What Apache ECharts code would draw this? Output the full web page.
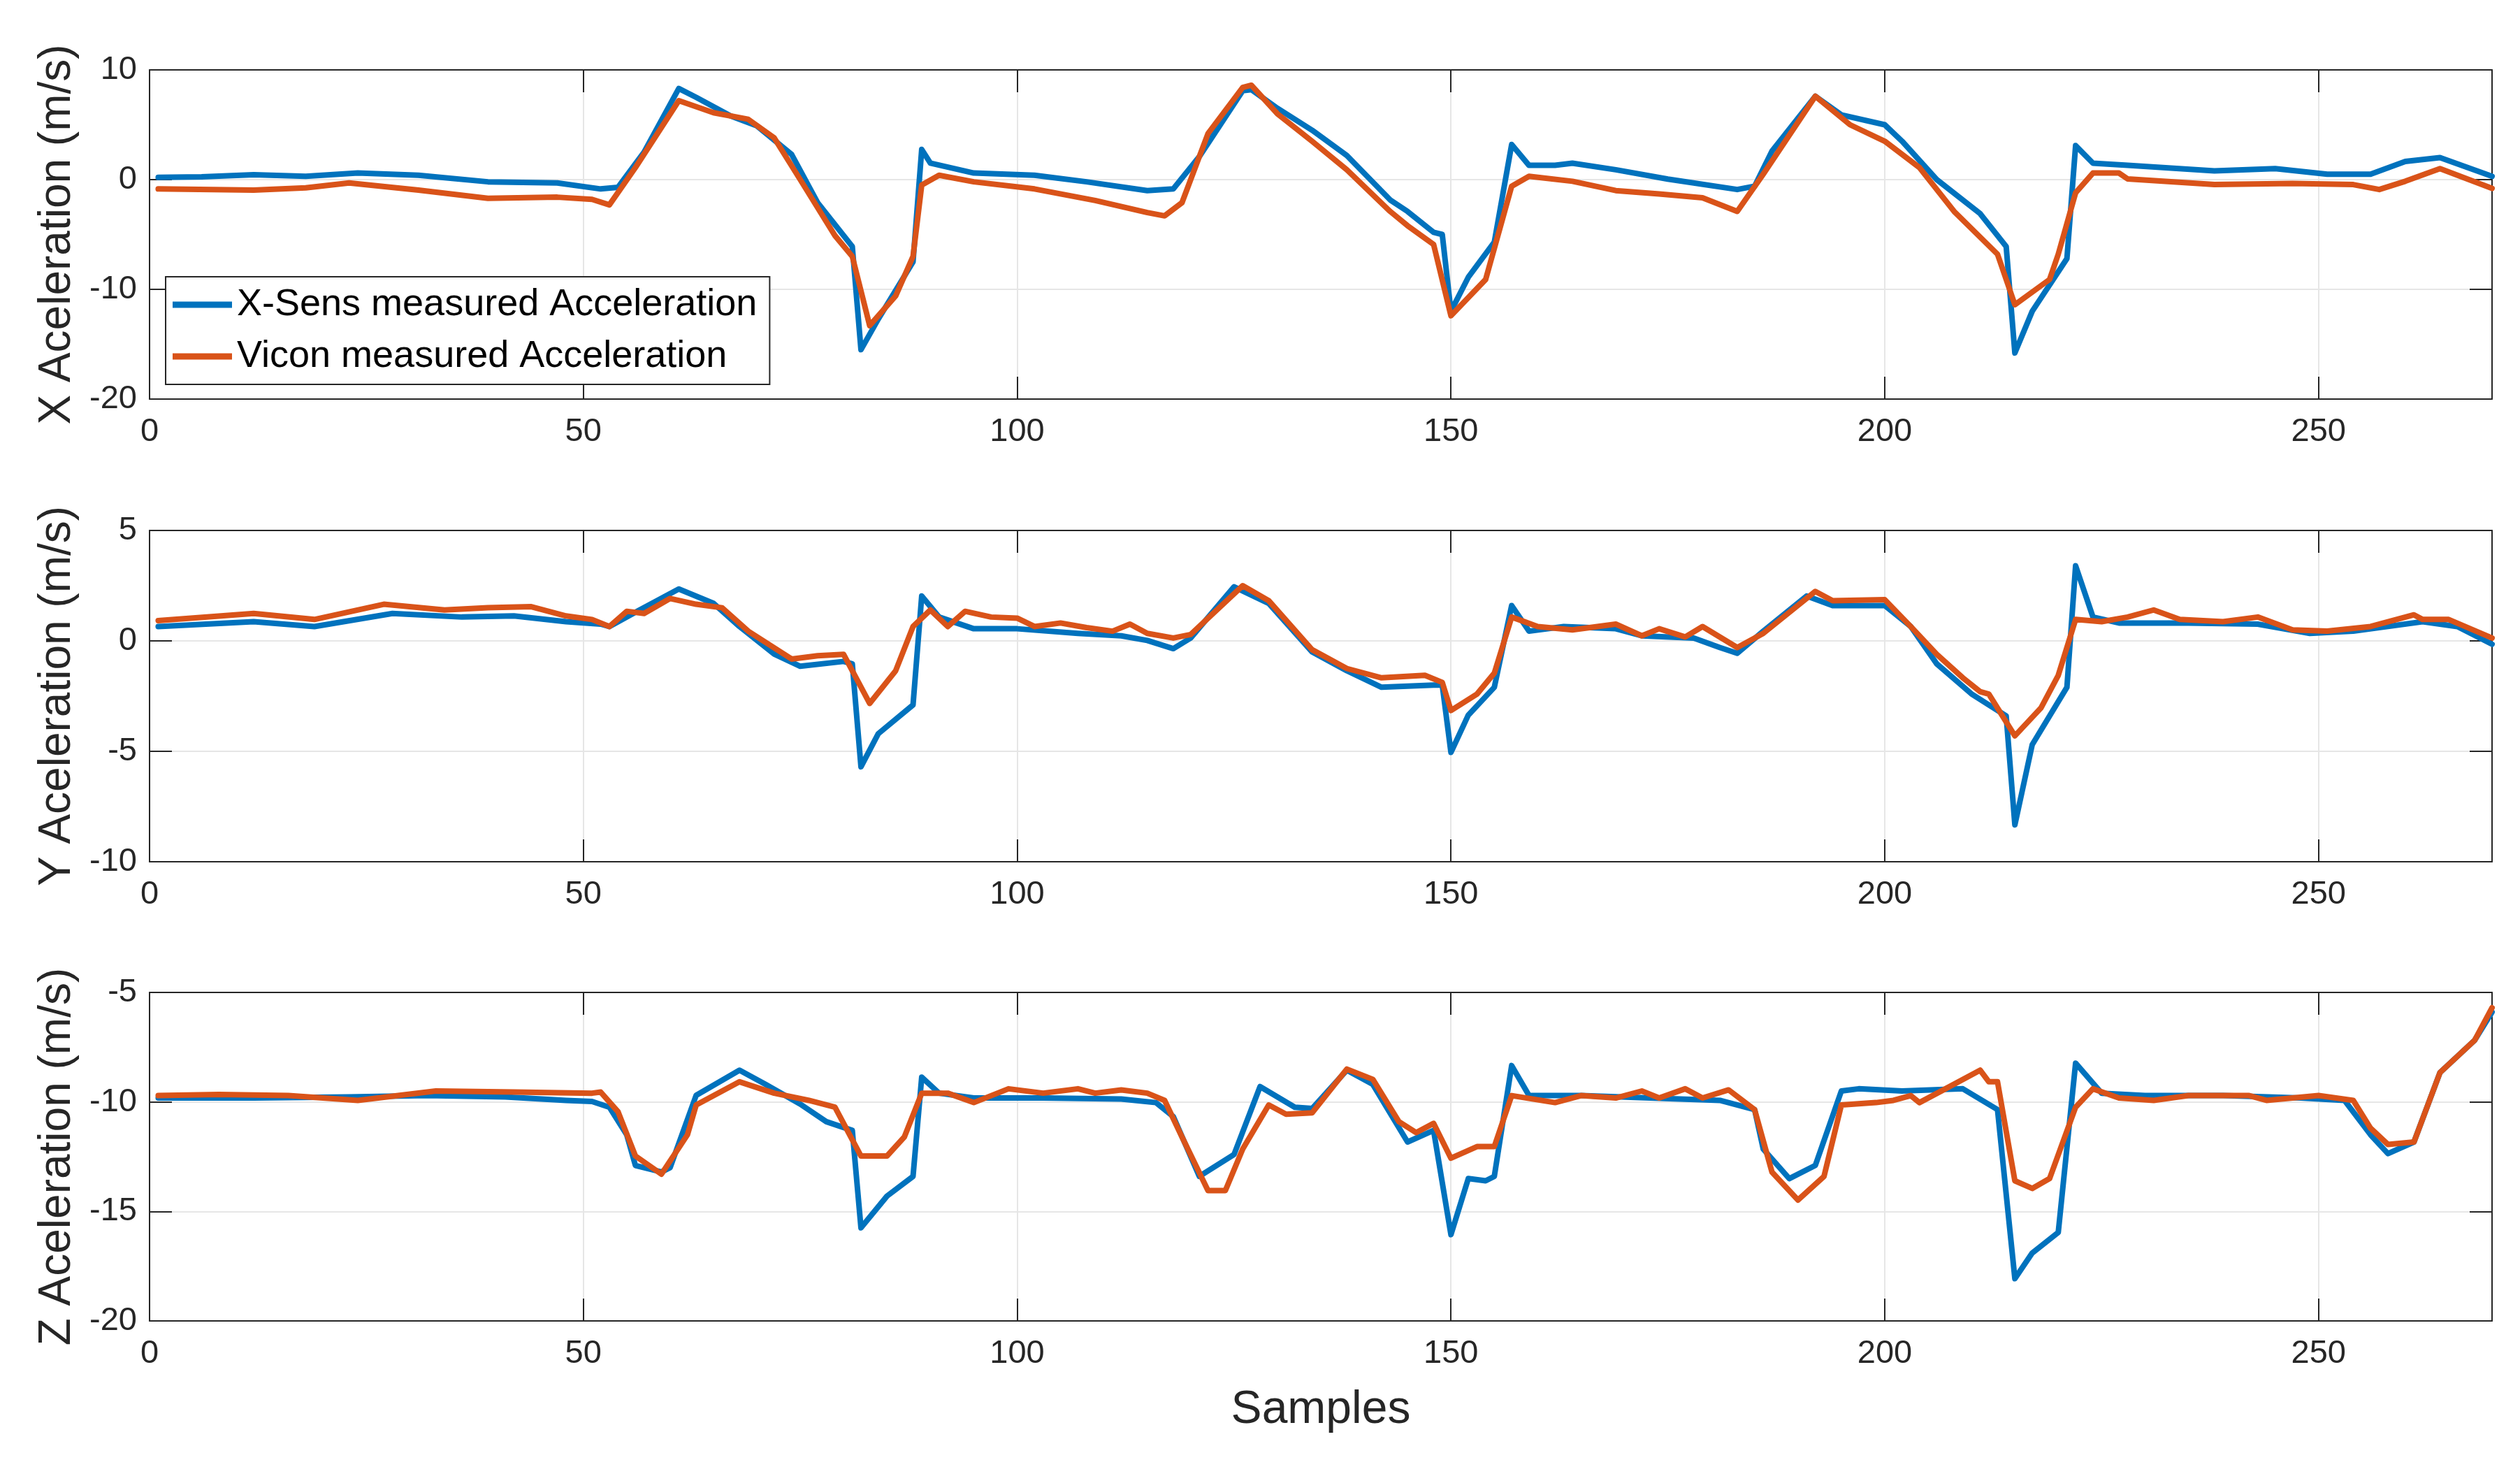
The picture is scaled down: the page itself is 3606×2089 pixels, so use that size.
<!DOCTYPE html>
<html>
<head>
<meta charset="utf-8">
<script src="https://cdn.jsdelivr.net/npm/echarts@6/dist/echarts.min.js"></script>
<style>
html,body{margin:0;padding:0;background:#fff;}
#chart{width:3606px;height:2089px;}
</style>
</head>
<body>
<div id="chart"></div>
<script>
// ---- Series names ----
const seriesNames = ['X-Sens measured Acceleration', 'Vicon measured Acceleration'];
const axisTitles = ['X Aceleration (m/s)', 'Y Aceleration (m/s)', 'Z Aceleration (m/s)'];
const xTitle = 'Samples';

// ---- X acceleration ----
const xsensX_t = [1,6,12,18,24,31,39,47,52,54,57,61,63,67,70,74,77,81,82,84,88,89,90,95,102,108,115,118,121,126,127,130,134,138,143,145,148,149,150,152,155,157,159,162,164,169,175,183,185,187,192,195,200,202,206,211,214,215,217,221,222,224,228,238,245,251,256,260,264,270];
const xsensX_v = [0.2,0.25,0.45,0.3,0.6,0.4,-0.2,-0.3,-0.85,-0.7,2.5,8.3,7.5,5.8,4.9,2.3,-2.1,-6.1,-15.5,-12.7,-7.5,2.75,1.5,0.6,0.4,-0.2,-1.0,-0.85,2.1,8.1,8.2,6.5,4.5,2.2,-1.85,-2.9,-4.8,-5.0,-12.0,-8.9,-5.7,3.2,1.3,1.3,1.5,0.9,0.05,-0.9,-0.6,2.6,7.6,5.9,5.0,3.5,0.0,-3.1,-6.1,-15.8,-12.0,-7.2,3.1,1.5,1.3,0.8,1.0,0.5,0.5,1.65,2.0,0.3];
const viconX_t = [1,12,18,23,31,39,47,51,53,56,61,65,69,72,75,79,81,83,86,88,89,91,95,102,109,115,117,119,122,126,127,130,134,138,143,145,148,150,154,157,159,164,169,174,179,183,186,192,196,200,204,208,213,215,219,220,222,224,227,228,238,247,254,257,260,264,270];
const viconX_v = [-0.85,-0.95,-0.75,-0.3,-0.95,-1.7,-1.6,-1.8,-2.3,1.1,7.2,6.1,5.5,3.8,0.0,-5.1,-7.0,-13.3,-10.6,-7.0,-0.5,0.4,-0.2,-0.85,-1.9,-3.0,-3.3,-2.1,4.2,8.4,8.6,6.0,3.5,0.9,-2.9,-4.2,-5.9,-12.4,-9.1,-0.6,0.3,-0.15,-1.0,-1.3,-1.65,-2.9,0.5,7.6,5.0,3.5,1.1,-2.9,-6.8,-11.4,-9.1,-6.8,-1.2,0.6,0.6,0.06,-0.45,-0.35,-0.45,-0.9,-0.15,1.0,-0.8];

// ---- Y acceleration ----
const xsensY_t = [1,12,19,28,36,42,48,52,53,56,61,65,68,72,75,80,81,82,84,88,89,91,95,100,107,112,115,118,120,125,129,134,138,142,148,149,150,152,155,157,159,163,169,172,178,181,183,186,191,194,200,203,206,210,214,215,217,221,222,224,227,235,243,249,254,262,266,270];
const xsensY_v = [0.65,0.87,0.65,1.24,1.08,1.13,0.87,0.76,0.65,1.3,2.35,1.7,0.65,-0.6,-1.15,-0.93,-1.04,-5.7,-4.2,-2.9,2.03,1.08,0.55,0.55,0.34,0.23,0.02,-0.35,0.13,2.45,1.7,-0.5,-1.35,-2.1,-2.0,-2.0,-5.05,-3.36,-2.1,1.6,0.44,0.65,0.55,0.23,0.13,-0.3,-0.56,0.44,2.03,1.6,1.6,0.65,-1.04,-2.4,-3.4,-8.33,-4.7,-2.1,3.4,1.08,0.81,0.81,0.76,0.34,0.44,0.87,0.65,-0.15];
const viconY_t = [1,12,19,27,34,39,44,48,51,53,55,57,60,63,66,69,74,77,80,83,86,88,90,92,94,97,100,102,105,108,111,113,115,118,120,126,129,134,138,142,147,149,150,153,155,157,160,164,169,172,174,177,179,183,186,192,194,200,203,206,209,211,212,215,218,220,222,225,228,231,234,239,243,247,251,256,261,262,265,270];
const viconY_v = [0.92,1.24,0.97,1.66,1.4,1.5,1.55,1.13,0.97,0.65,1.34,1.24,1.92,1.66,1.5,0.44,-0.82,-0.67,-0.61,-2.83,-1.35,0.65,1.4,0.65,1.34,1.08,1.03,0.65,0.81,0.6,0.44,0.76,0.34,0.13,0.29,2.5,1.82,-0.4,-1.25,-1.67,-1.56,-1.88,-3.15,-2.41,-1.46,1.08,0.65,0.5,0.76,0.23,0.55,0.18,0.65,-0.3,0.34,2.24,1.82,1.87,0.65,-0.61,-1.67,-2.3,-2.41,-4.3,-3.04,-1.56,0.97,0.87,1.08,1.4,0.97,0.87,1.08,0.5,0.44,0.65,1.18,0.97,0.97,0.13];

// ---- Z acceleration ----
const xsensZ_t = [1,12,23,32,41,48,51,53,55,56,59,60,63,68,71,75,78,81,82,85,88,89,91,95,103,112,116,118,121,125,128,132,134,138,141,145,148,150,152,154,155,157,159,165,173,181,185,186,189,192,195,197,202,209,213,215,217,220,222,225,230,239,248,253,256,258,261,264,268,270];
const xsensZ_v = [-9.82,-9.82,-9.77,-9.71,-9.77,-9.93,-9.98,-10.24,-11.5,-12.9,-13.2,-13.0,-9.7,-8.55,-9.2,-10.1,-10.9,-11.3,-15.75,-14.3,-13.4,-8.87,-9.6,-9.82,-9.82,-9.87,-10.03,-10.67,-13.4,-12.4,-9.3,-10.24,-10.3,-8.55,-9.2,-11.83,-11.3,-16.06,-13.5,-13.6,-13.4,-8.34,-9.71,-9.71,-9.82,-9.93,-10.35,-12.15,-13.5,-12.9,-9.5,-9.4,-9.5,-9.4,-10.35,-18.07,-16.9,-15.96,-8.23,-9.6,-9.71,-9.71,-9.82,-9.93,-11.5,-12.36,-11.83,-8.66,-7.18,-5.9];
const viconZ_t = [1,8,16,24,33,42,51,52,54,56,59,62,63,68,72,76,79,82,85,87,89,92,95,99,103,107,109,112,115,117,119,122,124,126,129,131,134,138,141,144,146,148,150,153,155,157,162,165,169,172,174,177,179,182,185,187,190,193,195,199,201,203,204,207,211,212,213,215,217,219,222,224,227,231,235,242,244,250,254,256,258,261,264,268,270];
const viconZ_v = [-9.71,-9.66,-9.71,-9.93,-9.5,-9.55,-9.6,-9.55,-10.45,-12.47,-13.3,-11.5,-10.14,-9.08,-9.6,-9.93,-10.24,-12.47,-12.47,-11.6,-9.6,-9.6,-10.03,-9.4,-9.6,-9.4,-9.6,-9.45,-9.6,-9.93,-11.6,-14.05,-14.05,-12.15,-10.14,-10.56,-10.5,-8.5,-8.97,-10.9,-11.4,-10.98,-12.57,-12.04,-12.04,-9.71,-10.03,-9.71,-9.82,-9.5,-9.82,-9.4,-9.82,-9.45,-10.35,-13.2,-14.48,-13.4,-10.14,-10.03,-9.93,-9.71,-10.03,-9.4,-8.55,-9.08,-9.08,-13.6,-13.95,-13.5,-10.24,-9.4,-9.82,-9.93,-9.71,-9.71,-9.93,-9.71,-9.93,-11.2,-11.94,-11.83,-8.66,-7.18,-5.7];

// ---- Axis ranges / ticks ----
const xRange = {min: 0, max: 270, interval: 50};
const yRanges = [
  {min: -20, max: 10, interval: 10},
  {min: -10, max: 5, interval: 5},
  {min: -20, max: -5, interval: 5}
];

const BLUE = '#0072BD', ORANGE = '#D95319', INK = '#262626', GRIDC = '#e6e6e6';
const FONT = 'Liberation Sans, Arial, sans-serif';
const grids = [
  {left: 214, right: 40, top: 100, height: 471},
  {left: 214, right: 40, top: 759, height: 474},
  {left: 214, right: 40, top: 1420, height: 470}
];

const pairs = (t, v) => t.map((x, i) => [x, v[i]]);
const data = [
  [pairs(xsensX_t, xsensX_v), pairs(viconX_t, viconX_v)],
  [pairs(xsensY_t, xsensY_v), pairs(viconY_t, viconY_v)],
  [pairs(xsensZ_t, xsensZ_v), pairs(viconZ_t, viconZ_v)]
];

const xAxes = [], yAxes = [], series = [];
const lineCommon = {show: true, onZero: false, lineStyle: {color: INK, width: 2}};
const tickCommon = {show: true, inside: true, length: 32, lineStyle: {color: INK, width: 2}};
for (let g = 0; g < 3; g++) {
  xAxes.push({
    type: 'value', gridIndex: g, position: 'bottom', min: xRange.min, max: xRange.max, interval: xRange.interval,
    axisLine: lineCommon, axisTick: tickCommon,
    axisLabel: {show: true, color: INK, fontSize: 47, fontFamily: FONT, margin: 24, showMaxLabel: false},
    splitLine: {show: true, lineStyle: {color: GRIDC, width: 2}},
    name: g === 2 ? xTitle : '', nameLocation: 'middle', nameGap: 95,
    nameTextStyle: {color: INK, fontSize: 66, fontFamily: FONT}
  });
  xAxes.push({
    type: 'value', gridIndex: g, position: 'top', min: xRange.min, max: xRange.max, interval: xRange.interval,
    axisLine: lineCommon, axisTick: tickCommon, axisLabel: {show: false}, splitLine: {show: false}
  });
  yAxes.push({
    type: 'value', gridIndex: g, position: 'left', min: yRanges[g].min, max: yRanges[g].max, interval: yRanges[g].interval,
    axisLine: lineCommon, axisTick: tickCommon,
    axisLabel: {show: true, color: INK, fontSize: 47, fontFamily: FONT, margin: 18},
    splitLine: {show: true, lineStyle: {color: GRIDC, width: 2}},
    name: axisTitles[g], nameLocation: 'middle', nameGap: 100,
    nameTextStyle: {color: INK, fontSize: 64, fontFamily: FONT}
  });
  yAxes.push({
    type: 'value', gridIndex: g, position: 'right', min: yRanges[g].min, max: yRanges[g].max, interval: yRanges[g].interval,
    axisLine: lineCommon, axisTick: tickCommon, axisLabel: {show: false}, splitLine: {show: false}
  });
  [BLUE, ORANGE].forEach((c, k) => {
    series.push({
      name: seriesNames[k], type: 'line', xAxisIndex: 2 * g, yAxisIndex: 2 * g,
      data: data[g][k], showSymbol: false, symbol: 'none', smooth: false,
      lineStyle: {color: c, width: 8, join: 'round', cap: 'round'}, itemStyle: {color: c}, z: 2 + k, animation: false
    });
  });
}

const chart = echarts.init(document.getElementById('chart'), null, {renderer: 'canvas'});
chart.setOption({
  backgroundColor: '#ffffff',
  animation: false,
  grid: grids,
  xAxis: xAxes,
  yAxis: yAxes,
  legend: {
    data: seriesNames, orient: 'vertical', left: 237, top: 396,
    backgroundColor: '#ffffff', borderColor: INK, borderWidth: 2,
    padding: [10, 18, 10, 10], itemGap: 14, itemWidth: 85, itemHeight: 9, icon: 'rect',
    textStyle: {color: '#000', fontSize: 54, fontFamily: FONT, lineHeight: 60, padding: [0, 0, 0, 2]},
    z: 10
  },
  series: series
});
</script>
</body>
</html>
